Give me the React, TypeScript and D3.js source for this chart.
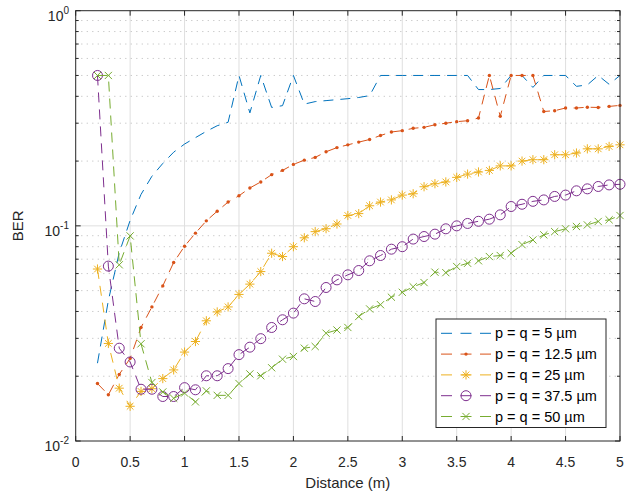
import React from "react"
import * as d3 from "d3"

// distance in metres (one sample every 10 cm)
const distance = [
  0.2, 0.3, 0.4, 0.5, 0.6, 0.7, 0.8, 0.9, 1.0,
  1.1, 1.2, 1.3, 1.4, 1.5, 1.6, 1.7, 1.8, 1.9, 2.0,
  2.1, 2.2, 2.3, 2.4, 2.5, 2.6, 2.7, 2.8, 2.9, 3.0,
  3.1, 3.2, 3.3, 3.4, 3.5, 3.6, 3.7, 3.8, 3.9, 4.0,
  4.1, 4.2, 4.3, 4.4, 4.5, 4.6, 4.7, 4.8, 4.9, 5.0,
]

const berP5 = [
  0.023, 0.045, 0.075, 0.106, 0.14, 0.17, 0.195, 0.22, 0.24,
  0.257, 0.275, 0.292, 0.303, 0.5, 0.335, 0.5, 0.355, 0.362, 0.5,
  0.368, 0.378, 0.382, 0.386, 0.39, 0.395, 0.403, 0.5, 0.5, 0.5,
  0.5, 0.5, 0.5, 0.5, 0.5, 0.5, 0.43, 0.43, 0.435, 0.5,
  0.5, 0.44, 0.5, 0.5, 0.5, 0.445, 0.452, 0.5, 0.455, 0.5,
]

const berP12 = [
  0.0185, 0.0164, 0.0204, 0.0242, 0.0337, 0.042, 0.0526, 0.0676, 0.0804,
  0.0925, 0.1055, 0.117, 0.129, 0.138, 0.15, 0.16, 0.173, 0.181, 0.193,
  0.202, 0.208, 0.221, 0.231, 0.238, 0.245, 0.252, 0.263, 0.273, 0.277,
  0.284, 0.287, 0.295, 0.3, 0.305, 0.308, 0.317, 0.5, 0.323, 0.5,
  0.5, 0.5, 0.34, 0.343, 0.353, 0.353, 0.356, 0.355, 0.359, 0.363,
]

const berP25 = [
  0.063, 0.0284, 0.0176, 0.0145, 0.017, 0.0175, 0.0195, 0.0214, 0.0259,
  0.029, 0.0362, 0.0398, 0.042, 0.048, 0.0536, 0.0613, 0.0746, 0.072, 0.08,
  0.088, 0.094, 0.097, 0.102, 0.1117, 0.114, 0.124, 0.129, 0.132, 0.139,
  0.141, 0.152, 0.157, 0.16, 0.168, 0.174, 0.178, 0.181, 0.19, 0.19,
  0.2, 0.203, 0.203, 0.214, 0.214, 0.218, 0.228, 0.228, 0.234, 0.238,
]

const berP37 = [
  0.5, 0.065, 0.027, 0.0233, 0.0174, 0.0174, 0.0161, 0.0161, 0.0177,
  0.0173, 0.0201, 0.0201, 0.0217, 0.0252, 0.0273, 0.0299, 0.0337, 0.0366, 0.0393,
  0.0458, 0.0445, 0.0517, 0.0561, 0.0592, 0.062, 0.0688, 0.0728, 0.0779, 0.08,
  0.0868, 0.0892, 0.0915, 0.0969, 0.1, 0.1026, 0.105, 0.1074, 0.1125, 0.123,
  0.126, 0.13, 0.132, 0.137, 0.139, 0.1455, 0.1486, 0.1524, 0.155, 0.156,
]

const berP50 = [
  0.5, 0.5, 0.0659, 0.0898, 0.0283, 0.0187, 0.0169, 0.0158, 0.0167,
  0.0152, 0.0171, 0.0163, 0.0163, 0.0185, 0.0205, 0.0201, 0.0219, 0.024, 0.0247,
  0.027, 0.0275, 0.0317, 0.0328, 0.0337, 0.0379, 0.0411, 0.043, 0.0466, 0.0491,
  0.0521, 0.0545, 0.0609, 0.0606, 0.0647, 0.067, 0.0688, 0.072, 0.0728, 0.0746,
  0.0818, 0.086, 0.0908, 0.094, 0.0969, 0.0993, 0.101, 0.1048, 0.1067, 0.1117,
]

const seriesNames = ["p = q = 5 µm", "p = q = 12.5 µm", "p = q = 25 µm", "p = q = 37.5 µm", "p = q = 50 µm"]
const seriesValues = [berP5, berP12, berP25, berP37, berP50]
const seriesColors = ["#0072BD", "#D95319", "#EDB120", "#7E2F8E", "#77AC30"]
const seriesMarkers = ["none", "dot", "star", "circle", "cross"]

const xTicks = [0, 0.5, 1, 1.5, 2, 2.5, 3, 3.5, 4, 4.5, 5]
const yDecades = [0.01, 0.1, 1]
const yExponents = ["-2", "-1", "0"]

const W = 644
const H = 495
const left = 75.7
const right = 620
const top = 10.7
const bottom = 441
const font = "'Liberation Sans', Arial, Helvetica, sans-serif"
const axisColor = "#262626"
const dash = "10,7"

const Marker = ({ type, cx, cy, color }: { type: string; cx: number; cy: number; color: string }) => {
  if (type === "dot") return <circle cx={cx} cy={cy} r={1.7} fill={color} />
  if (type === "circle") return <circle cx={cx} cy={cy} r={5} fill="none" stroke={color} strokeWidth={1} />
  if (type === "cross") {
    const r = 3.6
    return (
      <path
        d={`M${cx - r},${cy - r}L${cx + r},${cy + r}M${cx - r},${cy + r}L${cx + r},${cy - r}`}
        stroke={color}
        strokeWidth={1}
      />
    )
  }
  if (type === "star") {
    const r = 4.6
    const d = r * 0.72
    return (
      <path
        d={`M${cx - r},${cy}L${cx + r},${cy}M${cx},${cy - r}L${cx},${cy + r}M${cx - d},${cy - d}L${cx + d},${cy + d}M${cx - d},${cy + d}L${cx + d},${cy - d}`}
        stroke={color}
        strokeWidth={1}
      />
    )
  }
  return null
}

const App = () => {
  const x = d3.scaleLinear().domain([0, 5]).range([left, right])
  const y = d3.scaleLog().domain([0.01, 1]).range([bottom, top])

  const line = d3
    .line<[number, number]>()
    .x((d) => x(d[0]))
    .y((d) => y(d[1]))

  const minorTicks = y.ticks().filter((v) => !yDecades.some((dv) => Math.abs(dv - v) < 1e-9))

  const legX = 436
  const legY = 319
  const legW = 170
  const legH = 108.5
  const rowH = 20.8

  return (
    <svg
      width={W}
      height={H}
      style={{ position: "absolute", left: 0, top: 0, background: "#fff" }}
      fontFamily={font}
    >
      <rect x={0} y={0} width={W} height={H} fill="#fff" />
      <rect x={left} y={top} width={right - left} height={bottom - top} fill="#fff" />

      {/* grid */}
      {xTicks.slice(1, -1).map((t) => (
        <line key={"gx" + t} x1={x(t)} x2={x(t)} y1={top} y2={bottom} stroke="#dfdfdf" strokeWidth={1} />
      ))}
      {minorTicks.map((t) => (
        <line
          key={"gm" + t}
          x1={left}
          x2={right}
          y1={y(t)}
          y2={y(t)}
          stroke="#c4c4c4"
          strokeWidth={1}
          strokeDasharray="1.2,4.3"
        />
      ))}
      <line x1={left} x2={right} y1={y(0.1)} y2={y(0.1)} stroke="#dfdfdf" strokeWidth={1} />

      {/* series */}
      {seriesValues.map((vals, i) => {
        const pts = distance.map((d, j) => [d, vals[j]] as [number, number])
        return (
          <g key={"s" + i}>
            <path d={line(pts) || ""} fill="none" stroke={seriesColors[i]} strokeWidth={1} strokeDasharray={dash} />
            {pts.map((p, j) => (
              <Marker key={j} type={seriesMarkers[i]} cx={x(p[0])} cy={y(p[1])} color={seriesColors[i]} />
            ))}
          </g>
        )
      })}

      {/* axes box */}
      <rect x={left} y={top} width={right - left} height={bottom - top} fill="none" stroke={axisColor} strokeWidth={1} />
      {xTicks.map((t) => (
        <g key={"tx" + t}>
          <line x1={x(t)} x2={x(t)} y1={bottom} y2={bottom - 5} stroke={axisColor} />
          <line x1={x(t)} x2={x(t)} y1={top} y2={top + 5} stroke={axisColor} />
          <text x={x(t)} y={467} textAnchor="middle" fontSize={14} fill={axisColor}>
            {t}
          </text>
        </g>
      ))}
      {yDecades.map((t, i) => (
        <g key={"ty" + t}>
          <line x1={left} x2={left + 5} y1={y(t)} y2={y(t)} stroke={axisColor} />
          <line x1={right} x2={right - 5} y1={y(t)} y2={y(t)} stroke={axisColor} />
          <text x={69} y={y(t) + 10} textAnchor="end" fontSize={14} fill={axisColor}>
            10
            <tspan dy={-7} fontSize={10}>
              {yExponents[i]}
            </tspan>
          </text>
        </g>
      ))}
      {minorTicks.map((t) => (
        <g key={"tm" + t}>
          <line x1={left} x2={left + 3} y1={y(t)} y2={y(t)} stroke={axisColor} />
          <line x1={right} x2={right - 3} y1={y(t)} y2={y(t)} stroke={axisColor} />
        </g>
      ))}

      {/* axis labels */}
      <text x={(left + right) / 2} y={488} textAnchor="middle" fontSize={15} fill={axisColor}>
        Distance (m)
      </text>
      <text
        transform={`translate(23,${(top + bottom) / 2}) rotate(-90)`}
        textAnchor="middle"
        fontSize={15}
        fill={axisColor}
      >
        BER
      </text>

      {/* legend */}
      <rect x={legX} y={legY} width={legW} height={legH} fill="#fff" stroke={axisColor} strokeWidth={1} />
      {seriesNames.map((name, i) => {
        const cy = legY + 14.3 + i * rowH
        return (
          <g key={"lg" + i}>
            <line
              x1={legX + 5}
              x2={legX + 55}
              y1={cy}
              y2={cy}
              stroke={seriesColors[i]}
              strokeWidth={1}
              strokeDasharray="11,8.5"
            />
            <Marker type={seriesMarkers[i]} cx={legX + 30} cy={cy} color={seriesColors[i]} />
            <text x={legX + 59} y={cy + 5} fontSize={14.5} fill="#000">
              {name}
            </text>
          </g>
        )
      })}
    </svg>
  )
}

export default App
